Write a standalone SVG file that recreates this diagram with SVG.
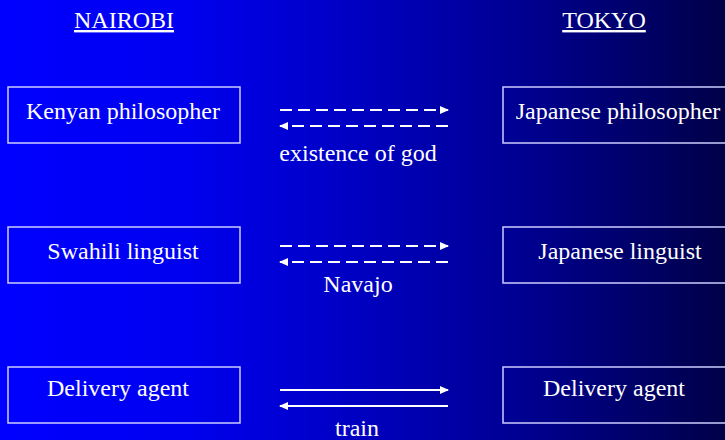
<svg xmlns="http://www.w3.org/2000/svg" width="725" height="440" viewBox="0 0 725 440">
<defs>
<linearGradient id="bg" x1="0" y1="0" x2="725" y2="0" gradientUnits="userSpaceOnUse">
<stop offset="0" stop-color="#0000ff"/>
<stop offset="0.25" stop-color="#0000f0"/>
<stop offset="0.5" stop-color="#0000c0"/>
<stop offset="0.75" stop-color="#00008a"/>
<stop offset="1" stop-color="#000048"/>
</linearGradient>
<marker id="ah" markerWidth="9" markerHeight="8" refX="8" refY="4" orient="auto" markerUnits="userSpaceOnUse">
<path d="M0,0 L9,4 L0,8 Z" fill="#ffffff"/>
</marker>
<style>
text{font-family:"Liberation Serif","Times New Roman",serif;font-size:24px;fill:#ffffff;text-anchor:middle}
.box{fill:none;stroke:#ccccff;stroke-width:1.5}
.arr{stroke:#ffffff;stroke-width:2;fill:none;marker-end:url(#ah)}
.dash{stroke-dasharray:12 6}
</style>
</defs>
<rect width="725" height="440" fill="url(#bg)"/>
<g id="header-nairobi"><text x="124" y="28" text-decoration="underline">NAIROBI</text></g>
<g id="header-tokyo"><text x="604" y="28" text-decoration="underline">TOKYO</text></g>
<g id="kenyan-philosopher"><rect class="box" x="8" y="87" width="232" height="56"/><text x="123" y="119">Kenyan philosopher</text></g>
<g id="japanese-philosopher"><rect class="box" x="503" y="87" width="232" height="56"/><text x="618" y="119">Japanese philosopher</text></g>
<g id="swahili-linguist"><rect class="box" x="8" y="227" width="232" height="56"/><text x="123" y="259">Swahili linguist</text></g>
<g id="japanese-linguist"><rect class="box" x="503" y="227" width="232" height="56"/><text x="620" y="259">Japanese linguist</text></g>
<g id="delivery-nairobi"><rect class="box" x="8" y="367" width="232" height="56"/><text x="118" y="396">Delivery agent</text></g>
<g id="delivery-tokyo"><rect class="box" x="503" y="367" width="232" height="56"/><text x="614" y="396">Delivery agent</text></g>
<g id="connectors">
<line class="arr dash" x1="280" y1="110" x2="448" y2="110"/>
<line class="arr dash" x1="448" y1="126" x2="280" y2="126"/>
<text x="358" y="161">existence of god</text>
<line class="arr dash" x1="280" y1="246" x2="448" y2="246"/>
<line class="arr dash" x1="448" y1="262" x2="280" y2="262"/>
<text x="358" y="292">Navajo</text>
<line class="arr" x1="280" y1="390" x2="448" y2="390"/>
<line class="arr" x1="448" y1="406" x2="280" y2="406"/>
<text x="357" y="436">train</text>
</g>
</svg>
